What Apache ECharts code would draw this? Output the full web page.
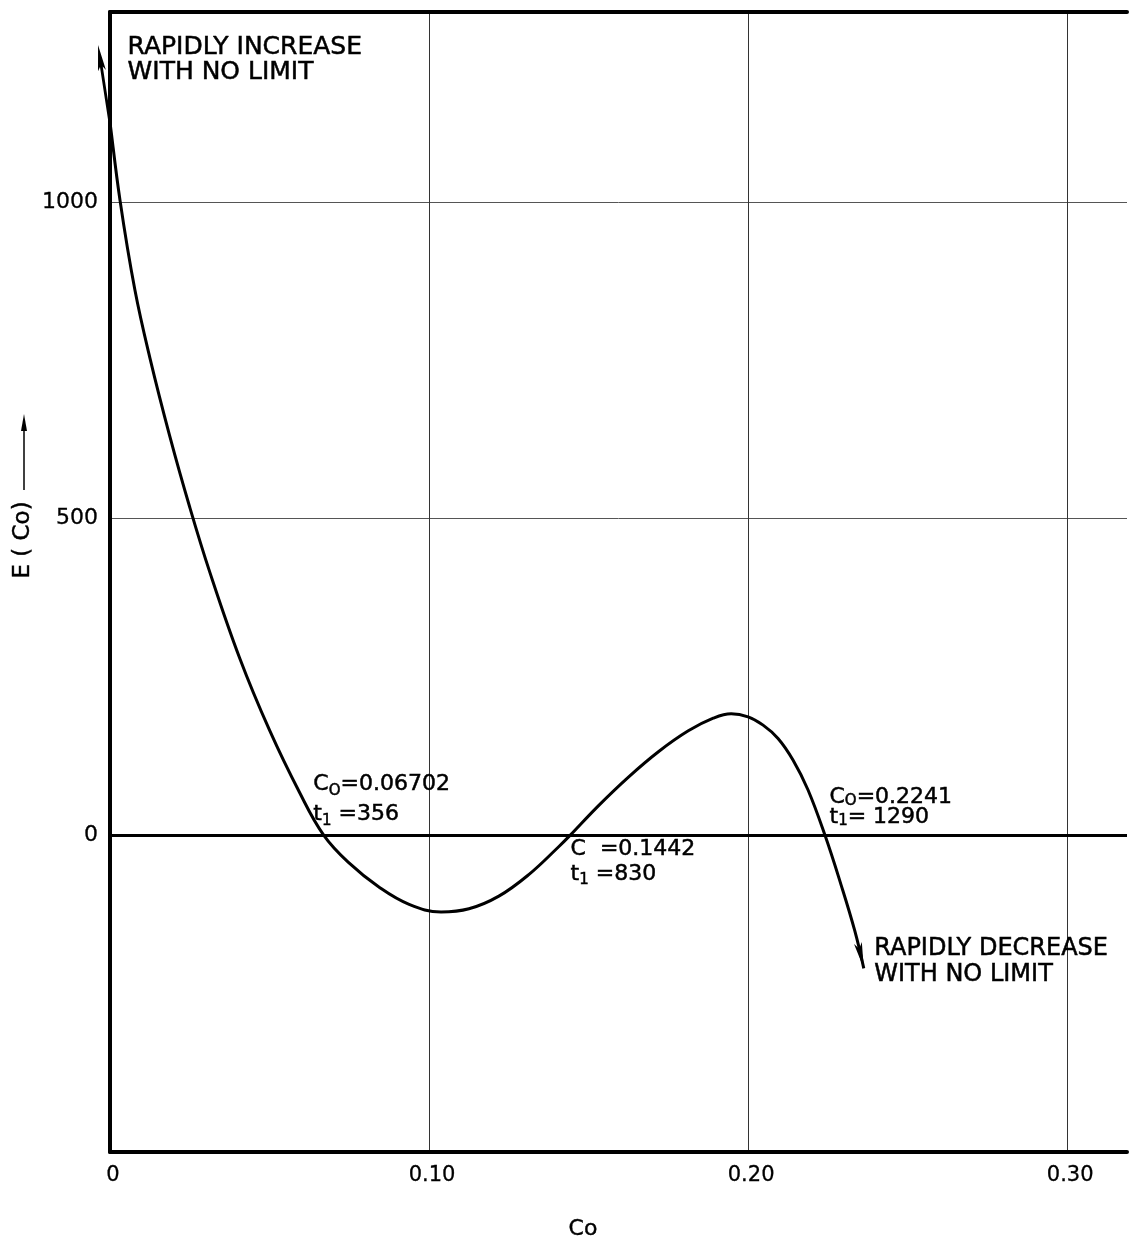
<!DOCTYPE html>
<html>
<head>
<meta charset="utf-8">
<script src="https://cdn.jsdelivr.net/npm/echarts@6/dist/echarts.min.js"></script>
<style>
  html, body { margin: 0; padding: 0; background: #fff; }
  #chart { width: 1130px; height: 1239px; }
</style>
</head>
<body>
<div id="chart"></div>
<script>
// E(Co) curve: Co values and the matching E(Co) values
const coValues = [-0.00375, -0.00094, 0.00313, 0.00781, 0.0125, 0.01875, 0.025, 0.03125, 0.04063, 0.05,
  0.05938, 0.06702, 0.075, 0.08438, 0.09375, 0.10375, 0.1125, 0.12188, 0.13125, 0.14063,
  0.1442, 0.15313, 0.1625, 0.17188, 0.18125, 0.18906, 0.19469, 0.2, 0.20469, 0.20938,
  0.21406, 0.21875, 0.2241, 0.22906, 0.23344, 0.23625];
const eValues = [1248, 1161, 1003, 861, 754, 630, 518, 416, 280, 166,
  68, 0, -44, -82, -109, -121, -116, -96, -62, -18,
  0, 47, 92, 132, 165, 185, 192, 187, 174, 153,
  119, 72, 0, -77, -151, -210];

// roots of E(Co) = 0 and their t1 values
const rootCo = [0.06702, 0.1442, 0.2241];
const rootT1 = [356, 830, 1290];
const rootSymbol = ['O', ' ', 'O'];

// axis ticks and their labels
const xTicks = [0, 0.1, 0.2, 0.3];
const xTickLabels = ['0', '0.10', '0.20', '0.30'];
const yTicks = [0, 500, 1000];
const yTickLabels = ['0', '500', '1000'];

const FONT = '"DejaVu Sans", "Liberation Sans", sans-serif';
const INK = '#000';

const chart = echarts.init(document.getElementById('chart'), null, { renderer: 'canvas' });

const curve = coValues.map((c, i) => [c, eValues[i]]);
const first = curve[0];
const last = curve[curve.length - 1];

// arrowheads; the tip sits at the centre of the symbol box
const ARROW_HEAD = 'path://M0,-26L0.01,-26L0,-25.99Z M0,0 L4,26 L0,20 L-4,26 Z';
// arrowhead with a shaft that carries the curve past the left axis
const ARROW_SHAFT = 'path://M0,-80L0.01,-80L0,-79.99Z M0,0 L4,26 L1.4,22 L1.4,80 L-1.4,80 L-1.4,22 L-4,26 Z';

function tickLabel(ticks, labels) {
  return function (v) {
    for (let i = 0; i < ticks.length; i++) {
      if (Math.abs(v - ticks[i]) < 1e-9) return labels[i];
    }
    return '';
  };
}

const textInk = { color: INK, textBorderColor: INK, textBorderWidth: 0.5 };

// text placement for each root note: [dx, dy, lineHeight, subLineHeight, subPad]
const rootNoteLayout = [
  [-10, -66, 30, 14, 14],
  [1, 2, 25, 12, 12],
  [5, -48, 20, 12, 8]
];
const rootNotes = rootCo.map((c, i) => {
  const [dx, dy, lh, slh, sp] = rootNoteLayout[i];
  const sub = rootSymbol[i] === ' ' ? '{m|  }' : '{s|' + rootSymbol[i] + '}';
  const tSep = i === 2 ? '{m|= }' : '{m| =}';
  return {
    value: [c, 0],
    label: {
      show: true,
      position: [dx, dy],
      align: 'left',
      verticalAlign: 'top',
      formatter: '{m|C}' + sub + '{m|=' + c + '}\n{m|t}{s|1}' + tSep + '{m|' + rootT1[i] + '}',
      rich: {
        m: Object.assign({ fontFamily: FONT, fontSize: 22, lineHeight: lh }, textInk),
        s: Object.assign({ fontFamily: FONT, fontSize: 15, lineHeight: slh, padding: [sp, 0, 0, 0] }, textInk)
      }
    }
  };
});

const endNotes = [
  {
    value: first,
    label: Object.assign({
      show: true, position: [30, -9], align: 'left', verticalAlign: 'top',
      formatter: 'RAPIDLY INCREASE\nWITH NO LIMIT',
      fontFamily: FONT, fontSize: 25, lineHeight: 25
    }, textInk)
  },
  {
    value: last,
    label: Object.assign({
      show: true, position: [11, -32], align: 'left', verticalAlign: 'top',
      formatter: 'RAPIDLY DECREASE\nWITH NO LIMIT',
      fontFamily: FONT, fontSize: 24, lineHeight: 26
    }, textInk)
  }
];

const option = {
  backgroundColor: '#fff',
  animation: false,
  grid: { left: 110, right: 0, top: 12, bottom: 87, containLabel: false },
  xAxis: [
    {
      type: 'value', min: 0, max: 0.31875, interval: 0.1,
      axisLine: { onZero: false, lineStyle: { color: INK, width: 4 } },
      axisTick: { show: false },
      axisLabel: Object.assign({
        formatter: tickLabel(xTicks, xTickLabels),
        fontFamily: FONT, fontSize: 21, margin: 13, padding: [0, 0, 0, 6]
      }, textInk, { textBorderWidth: 0.3 }),
      splitLine: { show: true, lineStyle: { color: ['#333', '#333', '#333', '#333', 'rgba(0,0,0,0)'], width: 1 } }
    },
    {
      type: 'value', position: 'top', min: 0, max: 0.31875,
      axisLine: { onZero: false, lineStyle: { color: INK, width: 4 } },
      axisTick: { show: false }, axisLabel: { show: false }, splitLine: { show: false }
    }
  ],
  yAxis: {
    type: 'value', min: -500, max: 1300, interval: 500,
    axisLine: { onZero: false, lineStyle: { color: INK, width: 4 } },
    axisTick: { show: false },
    axisLabel: Object.assign({
      formatter: tickLabel(yTicks, yTickLabels),
      fontFamily: FONT, fontSize: 22, margin: 12
    }, textInk, { textBorderWidth: 0.3 }),
    splitLine: { show: true, lineStyle: { color: '#555', width: 1 } }
  },
  series: [
    {
      name: 'E(Co)', type: 'line', xAxisIndex: 0, data: curve,
      smooth: 0.4, showSymbol: false, clip: false, silent: true,
      lineStyle: { color: INK, width: 3 },
      markLine: {
        silent: true, symbol: 'none', animation: false,
        label: { show: false },
        lineStyle: { color: INK, width: 3, type: 'solid' },
        data: [{ yAxis: 0 }]
      }
    },
    {
      name: 'arrows', type: 'scatter', xAxisIndex: 0, clip: false, silent: true,
      itemStyle: { color: INK, opacity: 1 },
      data: [
        { value: first, symbol: ARROW_SHAFT, symbolSize: [8, 160], symbolRotate: 8.7 },
        { value: last, symbol: ARROW_HEAD, symbolSize: [8, 52], symbolRotate: 193 }
      ]
    },
    {
      name: 'notes', type: 'scatter', xAxisIndex: 0, clip: false, silent: true,
      symbolSize: 1, itemStyle: { color: 'rgba(0,0,0,0)', opacity: 1 },
      data: rootNotes.concat(endNotes)
    }
  ],
  graphic: [
    {
      type: 'text', x: 23, y: 540, rotation: Math.PI / 2,
      style: { text: 'E ( Co)', font: '23px ' + FONT, fill: INK, stroke: INK, lineWidth: 0.4, align: 'center', verticalAlign: 'middle' }
    },
    { type: 'line', shape: { x1: 24, y1: 490, x2: 24, y2: 428 }, style: { stroke: INK, lineWidth: 1.5 } },
    { type: 'polygon', shape: { points: [[24, 414], [27, 431], [21, 431]] }, style: { fill: INK } },
    {
      type: 'text', x: 583, y: 1229,
      style: { text: 'Co', font: '22px ' + FONT, fill: INK, stroke: INK, lineWidth: 0.4, align: 'center', verticalAlign: 'middle' }
    }
  ]
};

chart.setOption(option);
</script>
</body>
</html>
